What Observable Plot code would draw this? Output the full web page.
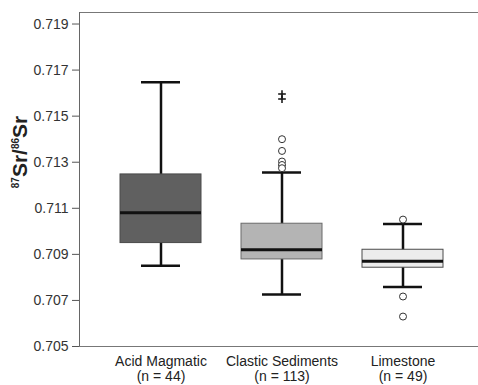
<!DOCTYPE html>
<html><head><meta charset="utf-8">
<script src="https://cdn.jsdelivr.net/npm/d3@7"></script>
<script src="https://cdn.jsdelivr.net/npm/@observablehq/plot@0.6"></script>
<style>body{margin:0;background:#fff}#chart{width:478px;height:385px}</style>
</head><body><div id="chart"></div>
<script>
const categories = ["Acid Magmatic", "Clastic Sediments", "Limestone"];
const counts = [44, 113, 49];
const whiskerLow = [0.70851, 0.70726, 0.70758];
const q1 = [0.70949, 0.70878, 0.70842];
const median = [0.71081, 0.70920, 0.70870];
const q3 = [0.71247, 0.71033, 0.70920];
const whiskerHigh = [0.71647, 0.71255, 0.71032];
const boxFill = ["#606060", "#b4b4b4", "#ececec"];
const boxStroke = ["#4a4a4a", "#6a6a6a", "#4a4a4a"];
const outlierCategory = ["Clastic Sediments", "Clastic Sediments", "Clastic Sediments", "Clastic Sediments", "Clastic Sediments", "Limestone", "Limestone", "Limestone"];
const outlierValue = [0.71400, 0.71349, 0.71303, 0.71288, 0.71274, 0.71051, 0.70717, 0.70630];
const extremeCategory = ["Clastic Sediments", "Clastic Sediments"];
const extremeValue = [0.71596, 0.71574];
const yTicks = [0.705, 0.707, 0.709, 0.711, 0.713, 0.715, 0.717, 0.719];
const yDomain = [0.705, 0.7195];

const boxes = categories.map((c, i) => ({cat: c, lo: whiskerLow[i], q1: q1[i], med: median[i], q3: q3[i], hi: whiskerHigh[i], fill: boxFill[i], stroke: boxStroke[i]}));
const outliers = outlierCategory.map((c, i) => ({cat: c, v: outlierValue[i]}));
const extremes = extremeCategory.map((c, i) => ({cat: c, v: extremeValue[i]}));
const labelOf = d => `${d}\n(n = ${counts[categories.indexOf(d)]})`;

const chart = Plot.plot({
  width: 478, height: 385,
  marginLeft: 79, marginRight: 0, marginTop: 12, marginBottom: 39,
  style: {fontFamily: "'Liberation Sans', Arial, sans-serif", fontSize: "14px", color: "#333", background: "#fff"},
  x: {type: "band", domain: categories, range: [99.5, 462.5], padding: 0},
  y: {domain: yDomain},
  color: {type: "identity"},
  marks: [
    Plot.axisX({tickSize: 0, tickPadding: 9, label: null, tickFormat: labelOf, lineHeight: 1.05, fill: "#222"}),
    Plot.axisY({ticks: yTicks, tickFormat: d3.format(".3f"), tickSize: 7, tickPadding: 4, label: null, stroke: "#555", fill: "#333"}),
    Plot.ruleY(yDomain, {stroke: "#777", strokeWidth: 1}),
    Plot.ruleX(boxes, {x: "cat", y1: "lo", y2: "hi", stroke: "#111", strokeWidth: 2.5}),
    Plot.tickY(boxes, {x: "cat", y: "lo", insetLeft: 41, insetRight: 41, stroke: "#111", strokeWidth: 2.5}),
    Plot.tickY(boxes, {x: "cat", y: "hi", insetLeft: 41, insetRight: 41, stroke: "#111", strokeWidth: 2.5}),
    Plot.barY(boxes, {x: "cat", y1: "q1", y2: "q3", fill: "fill", stroke: "stroke", strokeWidth: 1, insetLeft: 20, insetRight: 20}),
    Plot.tickY(boxes, {x: "cat", y: "med", insetLeft: 20, insetRight: 20, stroke: "#111", strokeWidth: 3}),
    Plot.dot(outliers, {x: "cat", y: "v", r: 3.5, fill: "white", stroke: "#333", strokeWidth: 1}),
    Plot.dot(extremes, {x: "cat", y: "v", symbol: "plus", r: 2.6, stroke: "#111", strokeWidth: 1.5})
  ]
});
document.getElementById("chart").appendChild(chart);

const svg = d3.select(chart);
svg.append("line").attr("x1", 79.5).attr("x2", 79.5).attr("y1", 12).attr("y2", 346).attr("stroke", "#666");

const t = svg.append("text")
  .attr("transform", "translate(27,152) rotate(-90)")
  .attr("text-anchor", "middle")
  .attr("font-weight", "bold")
  .attr("font-family", "'Liberation Sans', Arial, sans-serif")
  .attr("fill", "#222");
t.append("tspan").attr("font-size", 10).attr("dy", -8).text("87");
t.append("tspan").attr("font-size", 21).attr("dy", 8).text("Sr/");
t.append("tspan").attr("font-size", 10).attr("dy", -8).text("86");
t.append("tspan").attr("font-size", 21).attr("dy", 8).text("Sr");
</script>
</body></html>
